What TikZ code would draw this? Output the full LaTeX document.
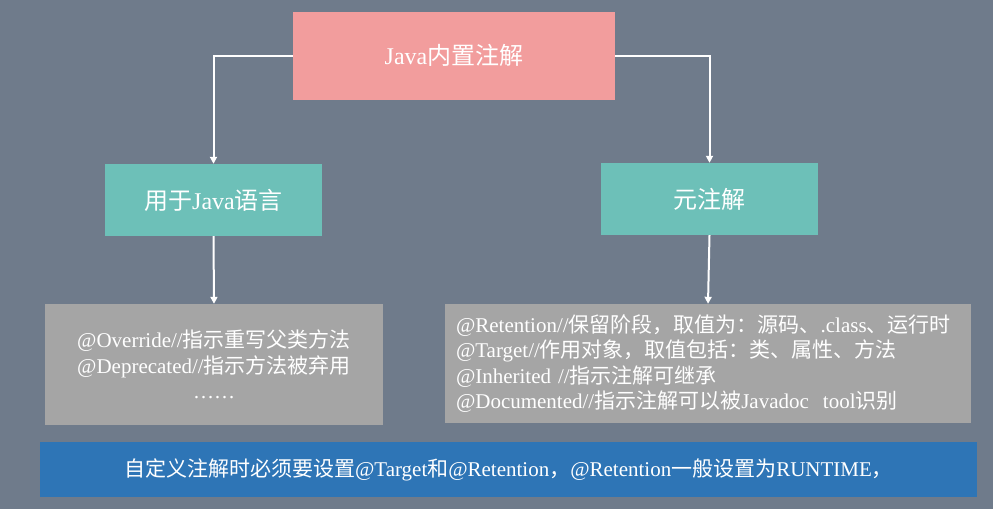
\documentclass[tikz,border=0pt]{standalone}
\usepackage{fontspec}
\setmainfont{Liberation Serif}
\newfontfamily\cjk{Noto Sans CJK SC}
\usetikzlibrary{arrows.meta}
\definecolor{bgc}{HTML}{6F7B8B}
\definecolor{pinkc}{HTML}{F29D9D}
\definecolor{tealc}{HTML}{6DC0B8}
\definecolor{grayc}{HTML}{A5A5A5}
\definecolor{bluec}{HTML}{2E75B6}
\newcommand\zh[1]{{\cjk #1}}
\begin{document}
\begin{tikzpicture}[x=1pt,y=-1pt,
  box/.style={rectangle, inner sep=0pt, text=white, font=\fontsize{24}{28}\selectfont},
  listbox/.style={rectangle, inner ysep=0pt, text=white, font=\fontsize{21}{25.5}\selectfont},
  conn/.style={draw=white, line width=2pt, -{Triangle[width=7pt,length=7pt]}}]
\fill[bgc] (0,0) rectangle (993,509);
\useasboundingbox (0,0) rectangle (993,509);
\node[box, fill=pinkc, minimum width=322pt, minimum height=88pt] (top) at (454,55.5) {Java\zh{内置注解}};
\node[box, fill=tealc, minimum width=217pt, minimum height=72pt] (lt) at (213.5,200) {\zh{用于}Java\zh{语言}};
\node[box, fill=tealc, minimum width=217pt, minimum height=72pt] (rt) at (709.5,199) {\zh{元注解}};
\node[listbox, fill=grayc, minimum width=338pt, minimum height=121pt, align=center] (lg) at (214,364.5)
  {@Override//\zh{指示重写父类方法}\\@Deprecated//\zh{指示方法被弃用}\\……};
\node[listbox, fill=grayc, text width=504pt, inner xsep=11pt, minimum height=119pt, align=left] (rg) at (708,363.5)
  {@Retention//\zh{保留阶段，取值为：源码、}.class\zh{、运行时}\\
   @Target//\zh{作用对象，取值包括：类、属性、方法}\\
   @Inherited //\zh{指示注解可继承}\\
   @Documented//\zh{指示注解可以被}Javadoc\ \ tool\zh{识别}};
\node[listbox, fill=bluec, minimum width=937pt, minimum height=55pt, inner sep=0pt] (bottom) at (508.5,469.5)
  {\zh{自定义注解时必须要设置}@Target\zh{和}@Retention\zh{，}@Retention\zh{一般设置为}RUNTIME\zh{，}};
\draw[conn] (top.west) -| (lt.north);
\draw[conn] (top.east) -| (rt.north);
\draw[conn] (lt.south) -- (lg.north);
\draw[conn] (rt.south) -- (rg.north);
\end{tikzpicture}
\end{document}
